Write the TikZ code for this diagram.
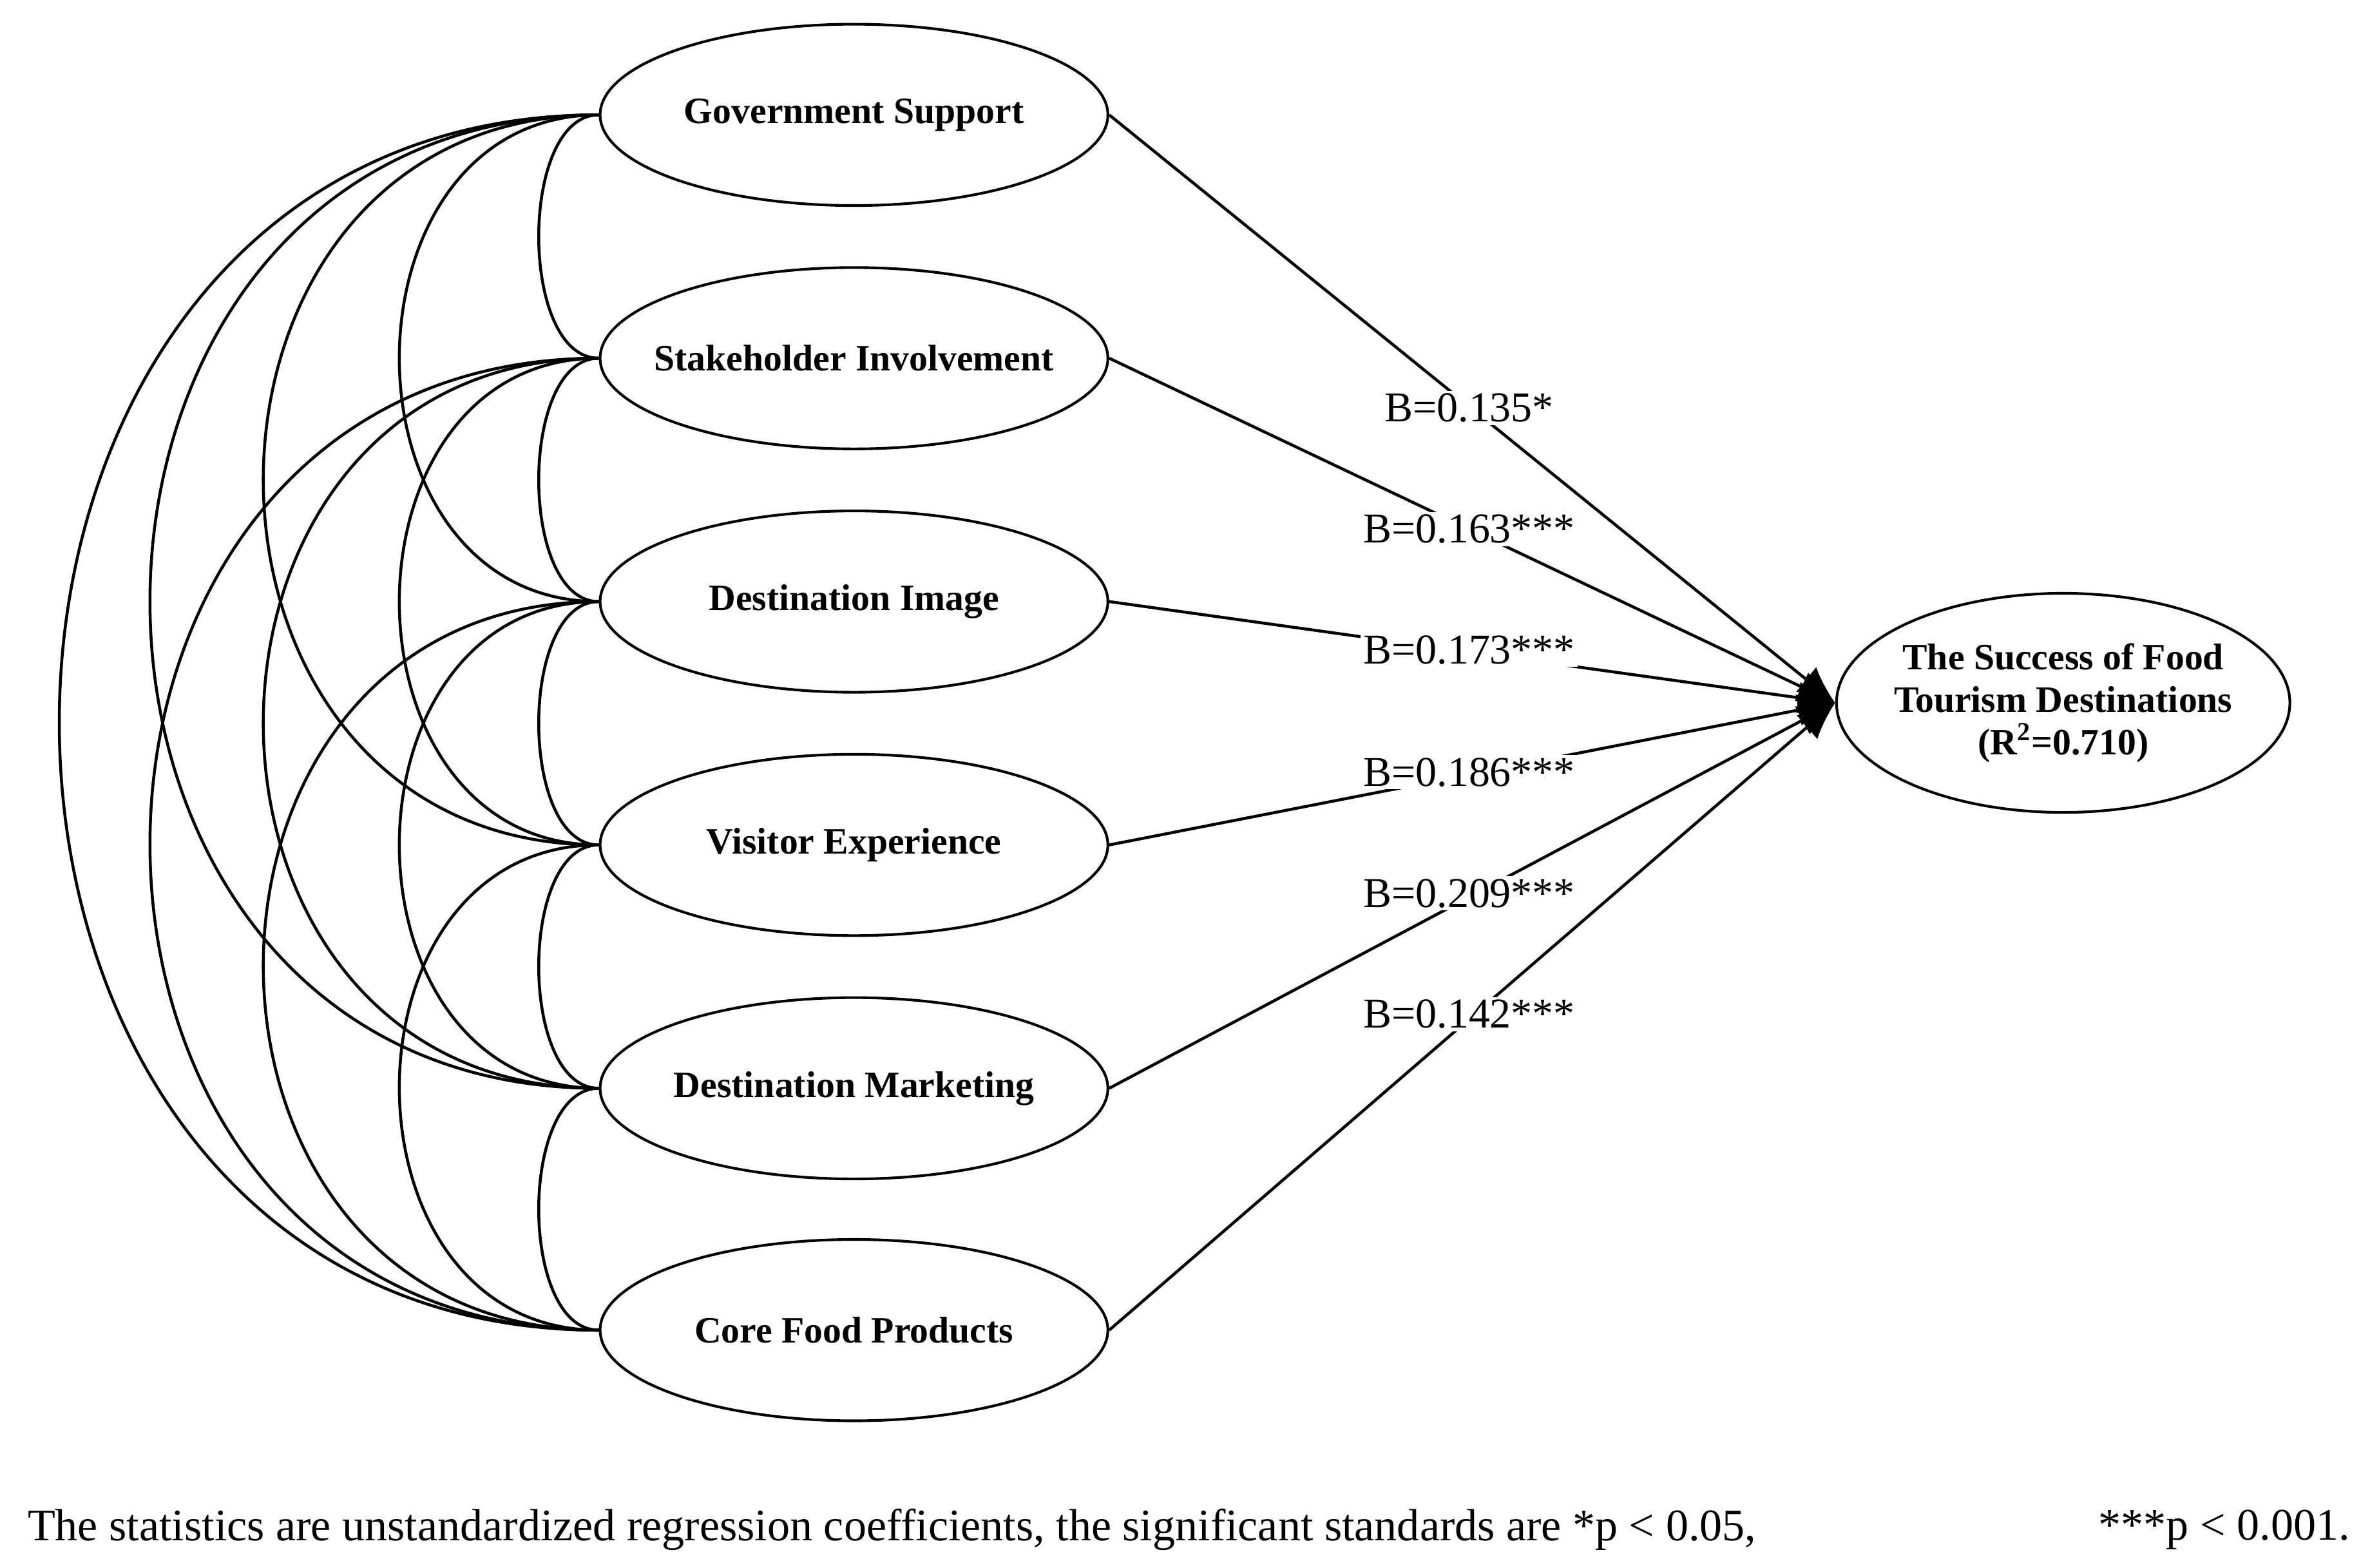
\documentclass[tikz,border=0pt]{standalone}
\usepackage{fontspec}
\setmainfont{Liberation Serif}
\usetikzlibrary{shapes.geometric,arrows.meta}
\newcommand\cov[3]{\draw[line] (#1.west) .. controls +(-#3,0) and +(-#3,0) .. (#2.west);}
\begin{document}
\begin{tikzpicture}[x=0.02cm,y=-0.02cm,
 var/.style={ellipse,draw,line width=1pt,minimum width=6.72cm,minimum height=2.4cm,font=\fontsize{14}{16}\selectfont\bfseries,inner xsep=-14pt,inner ysep=0pt},
 line/.style={line width=1.1pt},
 lab/.style={fill=white,inner sep=1pt,font=\fontsize{16}{18}\selectfont}]
\useasboundingbox (0,0) rectangle (1568,1037);
\node[var] (gs) at (565,76) {Government Support};
\node[var] (si) at (565,237) {Stakeholder Involvement};
\node[var] (di) at (565,398) {Destination Image};
\node[var] (ve) at (565,559) {Visitor Experience};
\node[var] (dm) at (565,720) {Destination Marketing};
\node[var] (cf) at (565,880) {Core Food Products};
\node[var,minimum width=6cm,minimum height=2.9cm,align=center,inner xsep=-16pt,inner ysep=-4pt] (t) at (1365,465) {The Success of Food\\Tourism Destinations\\(R\textsuperscript{2}=0.710)};
\coordinate (tip) at (t.west);
\foreach \n in {gs,si,di,ve,dm,cf} \draw[line,-{Latex[length=14pt,width=12pt]}] (\n.east) -- (tip);
\node[lab] at (972,270) {B=0.135*};
\node[lab] at (972,350) {B=0.163***};
\node[lab] at (972,430) {B=0.173***};
\node[lab] at (972,511) {B=0.186***};
\node[lab] at (972,591) {B=0.209***};
\node[lab] at (972,671) {B=0.142***};
\cov{gs}{si}{1.06cm}\cov{si}{di}{1.06cm}\cov{di}{ve}{1.06cm}\cov{ve}{dm}{1.06cm}\cov{dm}{cf}{1.06cm}
\cov{gs}{di}{3.52cm}\cov{si}{ve}{3.52cm}\cov{di}{dm}{3.52cm}\cov{ve}{cf}{3.52cm}
\cov{gs}{ve}{5.92cm}\cov{si}{dm}{5.92cm}\cov{di}{cf}{5.92cm}
\cov{gs}{dm}{7.92cm}\cov{si}{cf}{7.92cm}
\cov{gs}{cf}{9.52cm}
\node[anchor=west,font=\fontsize{17}{19}\selectfont,inner sep=0pt] (c1) at (18,1012) {The statistics are unstandardized regression coefficients, the significant standards are *p < 0.05,};
\node[anchor=east,font=\fontsize{17}{19}\selectfont,inner sep=0pt] (c2) at (1555,1012) {***p < 0.001.};
\end{tikzpicture}
\end{document}
